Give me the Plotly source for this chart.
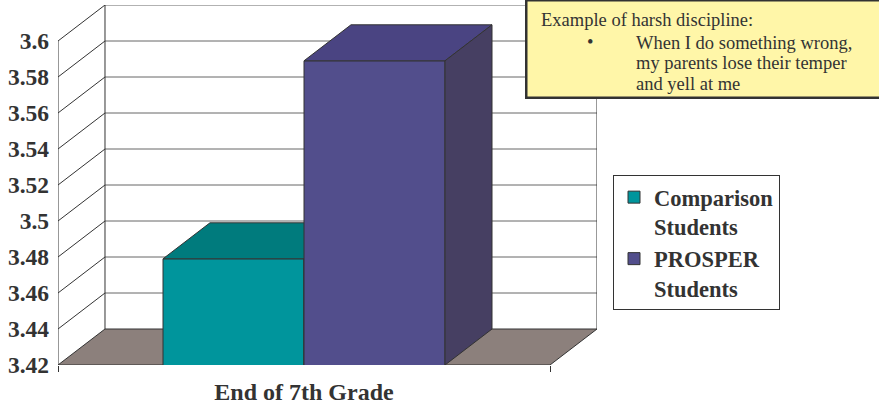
import plotly.graph_objects as go

# ---------------- data ----------------
categories = ["End of 7th Grade"]
series_names = ["Comparison<br>Students", "PROSPER<br>Students"]
comparison_values = [3.479]
prosper_values = [3.589]
tick_values = [3.42, 3.44, 3.46, 3.48, 3.50, 3.52, 3.54, 3.56, 3.58, 3.60]
tick_labels = ["3.42", "3.44", "3.46", "3.48", "3.5", "3.52", "3.54", "3.56", "3.58", "3.6"]
note_title = "Example of harsh discipline:"
note_lines = ["When I do something wrong,", "my parents lose their temper", "and yell at me"]

# ---------------- styling / geometry constants ----------------
W, H = 879, 407
ML, MR, MT, MB = 58, 282, 5, 42
DX = 0.0955          # depth offset in x units
DY = 0.02            # depth offset in y units
BAR_W = 0.2866
Y0, Y1 = tick_values[0], tick_values[-1]
XL, XR = -0.5, 0.5
TXT = "#333333"
EDGE = "#333333"
GRID = "#666666"
FLOOR = "#8C807C"
front_cols = ["#00959C", "#524E8C"]
top_cols = ["#007B7D", "#4A4482"]
side_cols = ["#006466", "#463F62"]
SERIF = "Liberation Serif"

PW = W - ML - MR
PH = H - MT - MB


def pxx(p):
    return (p - ML) / PW


def pxy(p):
    return (H - MB - p) / PH


fig = go.Figure()

# floor
fig.add_trace(go.Scatter(
    x=[XL, XR, XR + DX, XL + DX, XL], y=[Y0, Y0, Y0 + DY, Y0 + DY, Y0],
    mode="lines", fill="toself", fillcolor=FLOOR, line=dict(color=EDGE, width=1),
    showlegend=False, hoverinfo="skip", zorder=0))

# back wall gridlines + left wall diagonals
gx, gy, dx_, dy_ = [], [], [], []
for v in tick_values[1:]:
    gx += [XL + DX, XR + DX, None]
    gy += [v + DY, v + DY, None]
    dx_ += [XL, XL + DX, None]
    dy_ += [v, v + DY, None]
fig.add_trace(go.Scatter(x=gx, y=gy, mode="lines", line=dict(color=GRID, width=1),
                         showlegend=False, hoverinfo="skip", zorder=0))
fig.add_trace(go.Scatter(x=dx_, y=dy_, mode="lines", line=dict(color=EDGE, width=1),
                         showlegend=False, hoverinfo="skip", zorder=0))
# wall edges
fig.add_trace(go.Scatter(
    x=[XL, XL, None, XL + DX, XL + DX, None, XR + DX, XR + DX],
    y=[Y0, Y1, None, Y0 + DY, Y1 + DY, None, Y0 + DY, Y1 + DY],
    mode="lines", line=dict(color=EDGE, width=1), showlegend=False,
    hoverinfo="skip", zorder=0))

# bars with 3D faces
all_vals = [comparison_values, prosper_values]
offsets = [-BAR_W, 0.0]
z = 1
for i, vals in enumerate(all_vals):
    fig.add_trace(go.Bar(
        x=[0] * len(categories), y=vals, name=series_names[i], width=BAR_W, offset=offsets[i],
        marker=dict(color=front_cols[i], line=dict(color=EDGE, width=1)),
        zorder=z))
    v = vals[0]
    x0 = offsets[i]
    x1 = x0 + BAR_W
    fig.add_trace(go.Scatter(
        x=[x0, x1, x1 + DX, x0 + DX, x0], y=[v, v, v + DY, v + DY, v],
        mode="lines", fill="toself", fillcolor=top_cols[i], line=dict(color=EDGE, width=1),
        showlegend=False, hoverinfo="skip", zorder=z + 1))
    fig.add_trace(go.Scatter(
        x=[x1, x1 + DX, x1 + DX, x1, x1], y=[Y0, Y0 + DY, v + DY, v, Y0],
        mode="lines", fill="toself", fillcolor=side_cols[i], line=dict(color=EDGE, width=1),
        showlegend=False, hoverinfo="skip", zorder=z + 1))
    z += 2

# note box
shapes = [
    dict(type="rect", xref="paper", yref="paper", x0=pxx(525), x1=pxx(890), y0=pxy(99), y1=pxy(-1),
         fillcolor="#333333", line=dict(width=0), layer="above"),
    dict(type="rect", xref="paper", yref="paper", x0=pxx(527), x1=pxx(890), y0=pxy(97), y1=pxy(1),
         fillcolor="#FFF6A8", line=dict(color="#333333", width=1), layer="above"),
]
annotations = [
    dict(text=note_title, xref="paper", yref="paper", x=pxx(539), y=pxy(20),
         xanchor="left", yanchor="middle", showarrow=False,
         font=dict(family=SERIF, size=18.5, color=TXT)),
    dict(text="•", xref="paper", yref="paper", x=pxx(590), y=pxy(42),
         xanchor="center", yanchor="middle", showarrow=False,
         font=dict(family=SERIF, size=18.5, color=TXT)),
]
for k, line in enumerate(note_lines):
    annotations.append(dict(text=line, xref="paper", yref="paper", x=pxx(634), y=pxy(43 + 20.5 * k),
                            xanchor="left", yanchor="middle", showarrow=False,
                            font=dict(family=SERIF, size=18.5, color=TXT)))

fig.update_layout(
    width=W, height=H, margin=dict(l=ML, r=MR, t=MT, b=MB, pad=0, autoexpand=False),
    paper_bgcolor="white", plot_bgcolor="white",
    barmode="overlay",
    xaxis=dict(range=[XL, XR + DX], tickvals=[0], ticktext=categories, showgrid=False,
               zeroline=False, showline=False, ticks="", ticklabelstandoff=10, automargin=False,
               tickfont=dict(family=SERIF, size=24, color=TXT, weight="bold"),
               minor=dict(tickvals=[XL, XR], ticks="outside", ticklen=6, tickcolor=EDGE, showgrid=False),
               fixedrange=True),
    yaxis=dict(range=[Y0, Y1 + DY], tickvals=tick_values, ticktext=tick_labels, showgrid=False,
               zeroline=False, showline=False, ticks="", ticklabelstandoff=8, automargin=False,
               tickfont=dict(family=SERIF, size=23.5, color=TXT, weight="bold"), fixedrange=True),
    legend=dict(x=pxx(613), y=pxy(175), xanchor="left", yanchor="top", valign="top",
                bgcolor="white", bordercolor="#333333", borderwidth=1,
                font=dict(family=SERIF, size=22.5, color=TXT, weight="bold"),
                traceorder="normal", itemclick=False, itemdoubleclick=False),
    shapes=shapes, annotations=annotations,
)

fig.write_html("out.html")
